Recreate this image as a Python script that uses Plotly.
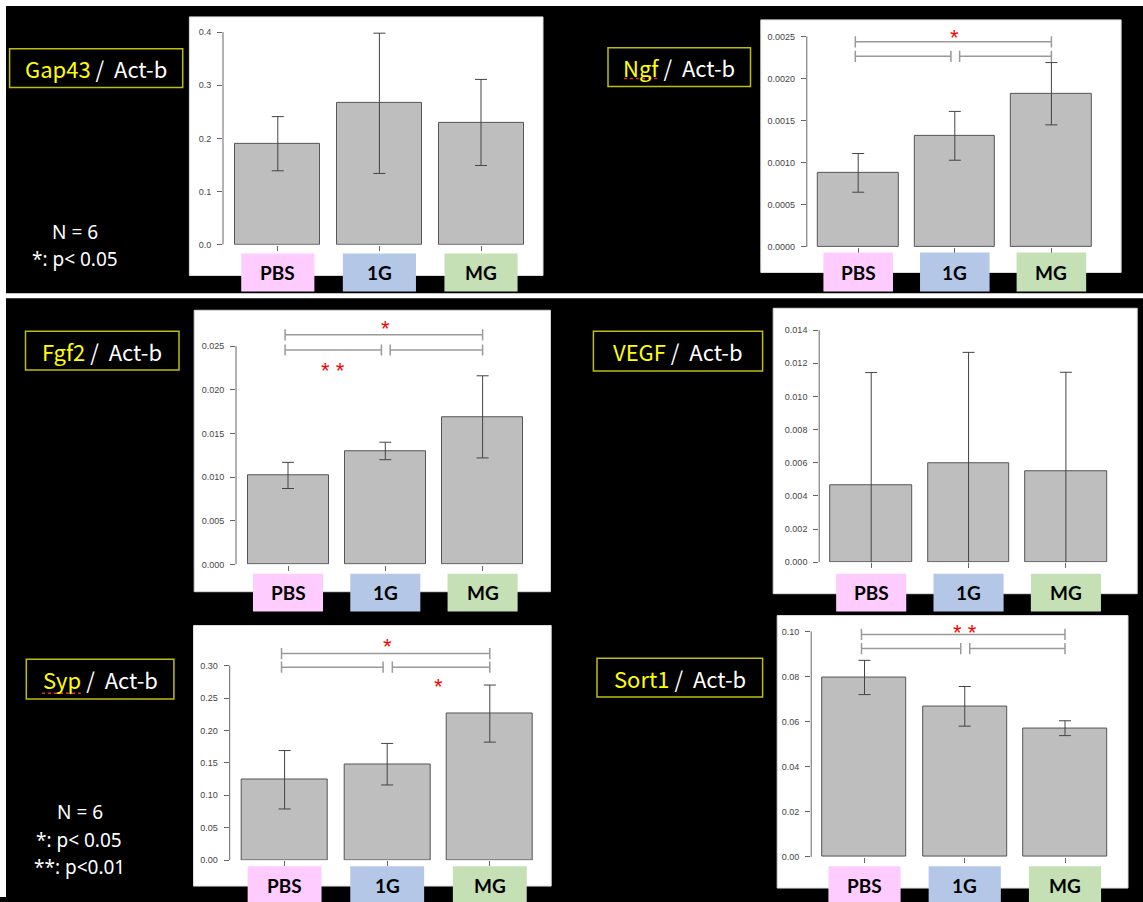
import plotly.graph_objects as go

W, H = 1143, 902

# ---------------- data ----------------
groups = ["PBS", "1G", "MG"]
group_colors = ["#FFCCFF", "#B4C7E7", "#C5E0B4"]

gap43_mean = [0.190, 0.266, 0.230]
gap43_err = [0.051, 0.132, 0.081]
ngf_mean = [0.00088, 0.00132, 0.00182]
ngf_err = [0.00023, 0.00029, 0.00037]
fgf2_mean = [0.0102, 0.0130, 0.0169]
fgf2_err = [0.0015, 0.0010, 0.0047]
vegf_mean = [0.00464, 0.00596, 0.00546]
vegf_err = [0.0068, 0.0067, 0.0060]
syp_mean = [0.124, 0.148, 0.226]
syp_err = [0.045, 0.032, 0.044]
sort1_mean = [0.0796, 0.0668, 0.0571]
sort1_err = [0.0076, 0.0088, 0.0033]

gap43_ticks = [0.0, 0.1, 0.2, 0.3, 0.4]
gap43_ticklabels = ["0.0", "0.1", "0.2", "0.3", "0.4"]
ngf_ticks = [0.0, 0.0005, 0.0010, 0.0015, 0.0020, 0.0025]
ngf_ticklabels = ["0.0000", "0.0005", "0.0010", "0.0015", "0.0020", "0.0025"]
fgf2_ticks = [0.0, 0.005, 0.010, 0.015, 0.020, 0.025]
fgf2_ticklabels = ["0.000", "0.005", "0.010", "0.015", "0.020", "0.025"]
vegf_ticks = [0.0, 0.002, 0.004, 0.006, 0.008, 0.010, 0.012, 0.014]
vegf_ticklabels = ["0.000", "0.002", "0.004", "0.006", "0.008", "0.010", "0.012", "0.014"]
syp_ticks = [0.0, 0.05, 0.10, 0.15, 0.20, 0.25, 0.30]
syp_ticklabels = ["0.00", "0.05", "0.10", "0.15", "0.20", "0.25", "0.30"]
sort1_ticks = [0.0, 0.02, 0.04, 0.06, 0.08, 0.10]
sort1_ticklabels = ["0.00", "0.02", "0.04", "0.06", "0.08", "0.10"]

# significance bracket levels (top, lower) and star labels (text, x, y)
ngf_brackets = [0.002437, 0.002264]
ngf_stars = [("*", 1.0, 0.002556)]
fgf2_brackets = [0.02629, 0.02455]
fgf2_stars = [("*", 1.0, 0.02773), ("* *", 0.46, 0.02284)]
syp_brackets = [0.3185, 0.2975]
syp_stars = [("*", 1.0, 0.3393), ("*", 1.5, 0.2775)]
sort1_brackets = [0.0987, 0.0924]
sort1_stars = [("* *", 1.0, 0.1022)]

# ---------------- layout geometry (pixels) ----------------
panels = [
    dict(gene="Gap43", mean=gap43_mean, err=gap43_err, ticks=gap43_ticks, ticklabels=gap43_ticklabels,
         brackets=None, stars=[], panel=(189.4, 17, 543.0, 277), axis_px=223.0, c0=277.8, s=101.6, w=85,
         y0=246.0, ytick_px=32.3, top=20, right=531, box=(255, 293), label_y=274,
         title=(9.6, 49, 182.7, 88), squiggle=None),
    dict(gene="Ngf", mean=ngf_mean, err=ngf_err, ticks=ngf_ticks, ticklabels=ngf_ticklabels,
         brackets=ngf_brackets, stars=ngf_stars, panel=(760.8, 20, 1121.1, 274), axis_px=806.8, c0=858.2, s=96.6, w=80.6,
         y0=248.3, ytick_px=36.7, top=23, right=1100, box=(254, 293), label_y=274,
         title=(608.0, 48, 750.5, 87), squiggle=(624, 659, 79)),
    dict(gene="Fgf2", mean=fgf2_mean, err=fgf2_err, ticks=fgf2_ticks, ticklabels=fgf2_ticklabels,
         brackets=fgf2_brackets, stars=fgf2_stars, panel=(194.2, 312, 550.4, 595), axis_px=236.0, c0=288.0, s=97.3, w=81,
         y0=567.7, ytick_px=348.0, top=315, right=531, box=(577, 615), label_y=596,
         title=(25.5, 333, 179.0, 372), squiggle=None),
    dict(gene="VEGF", mean=vegf_mean, err=vegf_err, ticks=vegf_ticks, ticklabels=vegf_ticklabels,
         brackets=None, stars=[], panel=(773.2, 310, 1137.2, 597), axis_px=819.2, c0=871.2, s=97.35, w=81.6,
         y0=565.3, ytick_px=332.0, top=313, right=1115, box=(577, 615), label_y=596,
         title=(593.4, 333, 762.6, 373), squiggle=None),
    dict(gene="Syp", mean=syp_mean, err=syp_err, ticks=syp_ticks, ticklabels=syp_ticklabels,
         brackets=syp_brackets, stars=syp_stars, panel=(193.5, 629, 551.2, 891), axis_px=229.7, c0=284.6, s=102.6, w=86,
         y0=865.0, ytick_px=669.3, top=632, right=541, box=(871, 912), label_y=890,
         title=(26.3, 663, 173.9, 703), squiggle=(42, 81, 697)),
    dict(gene="Sort1", mean=sort1_mean, err=sort1_err, ticks=sort1_ticks, ticklabels=sort1_ticklabels,
         brackets=sort1_brackets, stars=sort1_stars, panel=(777.2, 619, 1128.0, 893), axis_px=811.2, c0=864.5, s=100.25, w=84,
         y0=861.7, ytick_px=635.0, top=622, right=1115, box=(871, 912), label_y=890,
         title=(597.0, 662, 762.6, 701), squiggle=None),
]

BAR_FILL = "#BEBEBE"
BAR_LINE = "#555555"
ERR_COL = "#444444"
BRK_COL = "#9A9A9A"
AX_COL = "#666666"
TICK_FONT = dict(family="Liberation Sans, Arial, sans-serif", size=9, color="#444444")


def px_x(p):
    return p / W


def px_y(p):
    return 1 - p / H


fig = go.Figure()
shapes = []
annotations = []
layout = {}

# background strips (white border lines of the slide)
shapes.append(dict(type="rect", xref="paper", yref="paper", x0=0, x1=px_x(6), y0=0, y1=1,
                   fillcolor="white", line=dict(width=0), layer="below"))
shapes.append(dict(type="rect", xref="paper", yref="paper", x0=0, x1=1, y0=px_y(6), y1=1,
                   fillcolor="white", line=dict(width=0), layer="below"))
shapes.append(dict(type="rect", xref="paper", yref="paper", x0=0, x1=1, y0=px_y(300), y1=px_y(295),
                   fillcolor="white", line=dict(width=0), layer="below"))

for i, p in enumerate(panels):
    k = i + 1
    xa = "x" if k == 1 else f"x{k}"
    ya = "y" if k == 1 else f"y{k}"
    xkey = "xaxis" if k == 1 else f"xaxis{k}"
    ykey = "yaxis" if k == 1 else f"yaxis{k}"

    # white panel
    x0p, y0p, x1p, y1p = p["panel"]
    shapes.append(dict(type="rect", xref="paper", yref="paper", x0=px_x(x0p), x1=px_x(x1p),
                       y0=px_y(y1p), y1=px_y(y0p), fillcolor="white",
                       line=dict(width=1, color="#DDDDDD"), layer="below"))

    # axis scales
    ppu = (p["y0"] - p["ytick_px"]) / p["ticks"][-1]
    yrange = [0, (p["y0"] - p["top"]) / ppu]
    xrange = [(p["axis_px"] - p["c0"]) / p["s"], (p["right"] - p["c0"]) / p["s"]]
    layout[xkey] = dict(domain=[px_x(p["axis_px"]), px_x(p["right"])], range=xrange, anchor=ya,
                        tickvals=[0, 1, 2], ticks="outside", ticklen=5, tickcolor=AX_COL, tickwidth=1,
                        showticklabels=False, showline=False, showgrid=False, zeroline=False,
                        fixedrange=True)
    layout[ykey] = dict(domain=[px_y(p["y0"]), px_y(p["top"])], range=yrange, anchor=xa,
                        tickvals=p["ticks"], ticktext=p["ticklabels"], ticks="outside", ticklen=5,
                        tickcolor=AX_COL, tickwidth=1, tickfont=TICK_FONT, ticklabelstandoff=4,
                        showline=False, showgrid=False, zeroline=False, fixedrange=True)

    # bars with error bars
    fig.add_trace(go.Bar(x=[0, 1, 2], y=p["mean"], width=p["w"] / p["s"],
                         marker=dict(color=BAR_FILL, line=dict(color=BAR_LINE, width=1)),
                         error_y=dict(type="data", array=p["err"], visible=True, color=ERR_COL,
                                      thickness=1, width=6),
                         xaxis=xa, yaxis=ya, hoverinfo="skip"))

    # y axis line (R style: from first to last tick)
    shapes.append(dict(type="line", xref=f"{xa} domain", yref=ya, x0=0, x1=0,
                       y0=p["ticks"][0], y1=p["ticks"][-1], line=dict(color=AX_COL, width=1)))

    # significance brackets
    if p["brackets"]:
        top_lvl, low_lvl = p["brackets"]
        segs = [([-0.03, 2.0], top_lvl), ([-0.03, 0.96], low_lvl), ([1.05, 2.0], low_lvl)]
        for xs, lv in segs:
            fig.add_trace(go.Scatter(x=xs, y=[lv, lv], mode="lines+markers",
                                     line=dict(color=BRK_COL, width=1.5),
                                     marker=dict(symbol="line-ns", size=8,
                                                 line=dict(color=BRK_COL, width=1.5)),
                                     xaxis=xa, yaxis=ya, hoverinfo="skip"))
    for txt, sx, sy in p["stars"]:
        annotations.append(dict(text=txt, x=sx, y=sy, xref=xa, yref=ya, showarrow=False,
                                yshift=-6, font=dict(family="Liberation Sans, Arial", size=22,
                                                      color="#FF0000")))

    # group label boxes
    by0, by1 = p["box"]
    for j, (g, col) in enumerate(zip(groups, group_colors)):
        shapes.append(dict(type="rect", xref=xa, yref="paper", x0=j - 0.36, x1=j + 0.36,
                           y0=px_y(by1), y1=px_y(by0), fillcolor=col, line=dict(width=0),
                           layer="above"))
        annotations.append(dict(text=f"<b>{g}</b>", x=j, y=px_y(p["label_y"]), xref=xa, yref="paper",
                                showarrow=False, yanchor="middle",
                                font=dict(family="Lato, Open Sans, sans-serif", size=19, color="black")))

    # title box
    tx0, ty0, tx1, ty1 = p["title"]
    shapes.append(dict(type="rect", xref="paper", yref="paper", x0=px_x(tx0), x1=px_x(tx1),
                       y0=px_y(ty1), y1=px_y(ty0), fillcolor="black",
                       line=dict(color="#BDBD10", width=1.5), layer="above"))
    annotations.append(dict(text=f"<span style='color:#FFFF00'>{p['gene']}</span>&nbsp;/&nbsp;&nbsp;Act-b",
                            x=px_x((tx0 + tx1) / 2), y=px_y((ty0 + ty1) / 2), xref="paper", yref="paper",
                            showarrow=False, xanchor="center", yanchor="middle",
                            font=dict(family="Noto Sans CJK JP, Noto Sans, sans-serif", size=22,
                                      color="white")))
    if p["squiggle"]:
        sq0, sq1, sqy = p["squiggle"]
        shapes.append(dict(type="line", xref="paper", yref="paper", x0=px_x(sq0), x1=px_x(sq1),
                           y0=px_y(sqy), y1=px_y(sqy), line=dict(color="#E03030", width=1.5, dash="dot"),
                           layer="above"))

# N / p-value legends
legend_font = dict(family="Noto Sans, sans-serif", size=19, color="white")
for txt, cx, cy in [("N = 6", 74.5, 233), ("*: p< 0.05", 74.5, 260),
                    ("N = 6", 80, 817), ("*: p< 0.05", 79, 845), ("**: p<0.01", 79.5, 872)]:
    annotations.append(dict(text=txt, x=px_x(cx), y=px_y(cy), xref="paper", yref="paper",
                            showarrow=False, xanchor="center", yanchor="middle", font=legend_font))

fig.update_layout(width=W, height=H, margin=dict(l=0, r=0, t=0, b=0),
                  paper_bgcolor="black", plot_bgcolor="white", showlegend=False,
                  hovermode=False, bargap=0, shapes=shapes, annotations=annotations, **layout)

fig.write_html("out.html", config={"displayModeBar": False},
               post_script="document.body.style.margin='0';document.body.style.overflow='hidden';")
